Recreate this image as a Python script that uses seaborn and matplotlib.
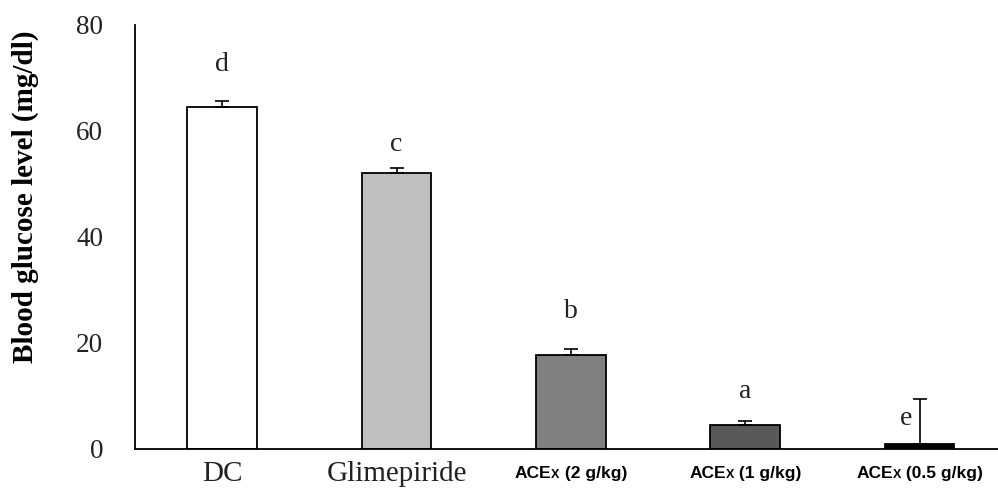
import matplotlib
matplotlib.use("Agg")
import matplotlib.pyplot as plt
import seaborn as sns
import pandas as pd
from matplotlib.offsetbox import TextArea, HPacker, AnnotationBbox

# ---- data ----
categories = ["DC", "Glimepiride", "ACEx (2 g/kg)", "ACEx (1 g/kg)", "ACEx (0.5 g/kg)"]
label_main = ["DC", "Glimepiride", None, None, None]
label_dose = [None, None, " (2 g/kg)", " (1 g/kg)", " (0.5 g/kg)"]
values = [64.5, 52.1, 17.7, 4.5, 0.95]
errors = [1.2, 0.9, 1.2, 0.8, 8.45]
letters = ["d", "c", "b", "a", "e"]
letter_y = [72.5, 57.5, 26.0, 10.8, 5.8]
bar_colors = ["#FFFFFF", "#C0C0C0", "#808080", "#595959", "#000000"]
yticks = [0, 20, 40, 60, 80]

df = pd.DataFrame({"cat": categories, "val": values})

sns.set_theme(style="white")
plt.rcParams["font.family"] = ["Liberation Serif", "DejaVu Serif"]

fig = plt.figure(figsize=(9.98, 4.94), dpi=100)
ax = fig.add_axes([0.1353, 0.0911, 0.8647, 0.8583])

sns.barplot(data=df, x="cat", y="val", hue="cat", palette=bar_colors,
            legend=False, width=0.4, edgecolor="black", linewidth=1.3,
            errorbar=None, ax=ax, saturation=1)

xs = list(range(len(categories)))
ax.errorbar(xs, values, yerr=[[0] * len(errors), errors], fmt="none",
            ecolor="black", elinewidth=1.2, capsize=4.8, capthick=1.2)

for i, (lt, ly) in enumerate(zip(letters, letter_y)):
    dx = -0.08 if i == 4 else 0
    ax.text(i + dx, ly, lt, ha="center", va="center", fontsize=20,
            family="Liberation Serif", color="#222222")

ax.set_xlim(-0.5, 4.45)
ax.set_ylim(0, 80)
ax.set_yticks(yticks)
ax.set_yticklabels([str(t) for t in yticks], fontsize=19.5, family="Liberation Serif",
                   color="#222222")
ax.set_ylabel("Blood glucose level (mg/dl)", fontsize=21, fontweight="bold",
              family="Liberation Serif", color="black")
ax.yaxis.set_label_coords(-0.111, 0.594)

ax.set_xticks(xs)
ax.set_xticklabels([m if m else "" for m in label_main], fontsize=21,
                   family="Liberation Serif", color="#222222")
ax.set_xlabel("")
ax.set_xticks([-0.5, 0.5, 1.5, 2.5, 3.5], minor=True)
ax.tick_params(axis="x", which="major", length=0, pad=9)
ax.tick_params(axis="x", which="minor", length=6, width=1.3, direction="out", color="black")
ax.tick_params(axis="y", which="major", length=7, width=1.3, direction="out", color="black", pad=16)

for s in ["top", "right"]:
    ax.spines[s].set_visible(False)
for s in ["left", "bottom"]:
    ax.spines[s].set_color("black")
    ax.spines[s].set_linewidth(1.3)

# composite ACEx labels
bold = dict(family="Liberation Sans", fontweight="bold", fontsize=12.5, color="black")
small = dict(family="Liberation Sans", fontweight="bold", fontsize=9, color="black")
for i, dose in enumerate(label_dose):
    if dose is None:
        continue
    box = HPacker(children=[TextArea("ACE", textprops=bold),
                            TextArea("X", textprops=small),
                            TextArea(dose, textprops=bold)],
                  align="baseline", pad=0, sep=0)
    ab = AnnotationBbox(box, (i, 0), xycoords=("data", "axes fraction"),
                        xybox=(0, -12), boxcoords="offset points",
                        box_alignment=(0.5, 1), frameon=False, pad=0)
    ax.add_artist(ab)

fig.savefig("out.png", dpi=100)
